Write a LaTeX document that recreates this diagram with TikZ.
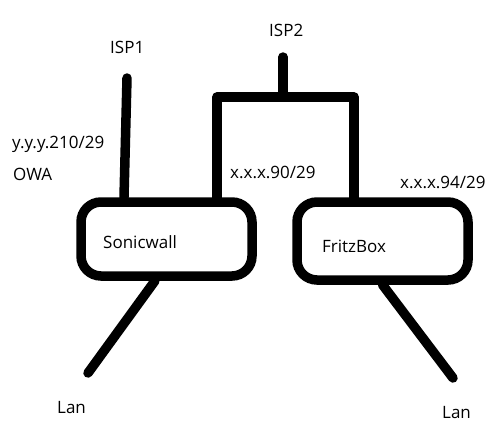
\documentclass[tikz,border=0pt]{standalone}
\usepackage{fontspec}
\setmainfont{Open Sans}
\begin{document}
\begin{tikzpicture}[x=1pt,y=-1pt,
  wire/.style={line width=9.5pt,line cap=round,line join=round},
  devbox/.style={draw,line width=9.5pt,rounded corners=20pt,minimum width=171pt,inner sep=0pt},
  lbl/.style={anchor=base west,inner sep=0pt,font=\fontsize{17pt}{20pt}\selectfont}]
\useasboundingbox (0,0) rectangle (493,429);
\fill[white] (0,0) rectangle (493,429);
% devices
\node[devbox,minimum height=74pt] (sw) at (166.5,239) {};
\node[devbox,minimum height=78pt] (fb) at (382.5,241) {};
% labels
\node[lbl] (isp1) at (110,53) {ISP1};
\node[lbl] (isp2) at (269,36) {ISP2};
\node[lbl] (ipy) at (12,148) {y.y.y.210/29};
\node[lbl] (owa) at (13,180) {OWA};
\node[lbl] (ip90) at (230,178) {x.x.x.90/29};
\node[lbl] (ip94) at (400,188) {x.x.x.94/29};
\node[lbl] (swt) at (103,248) {Sonicwall};
\node[lbl] (fbt) at (322,252) {FritzBox};
\node[lbl] (lan1) at (57,413) {Lan};
\node[lbl] (lan2) at (442,418) {Lan};
% coordinates
\coordinate (isp1end) at (127,78);
\coordinate (isp2end) at (283,57);
\coordinate (isp2j) at (283,97);
\coordinate (brL) at (217,97);
\coordinate (brR) at (354,97);
\coordinate (lan1end) at (88,373);
\coordinate (lan2end) at (453,378);
% connectors
\draw[wire] (isp1end) -- ([xshift=-42.5pt]sw.north);
\draw[wire] (isp2end) -- (isp2j);
\draw[wire] (sw.north -| brL) -- (brL) -- (brR) -- (fb.north -| brR);
\draw[wire] ([xshift=-11.5pt]sw.south) -- (lan1end);
\draw[wire] (fb.south) -- (lan2end);
\end{tikzpicture}
\end{document}
